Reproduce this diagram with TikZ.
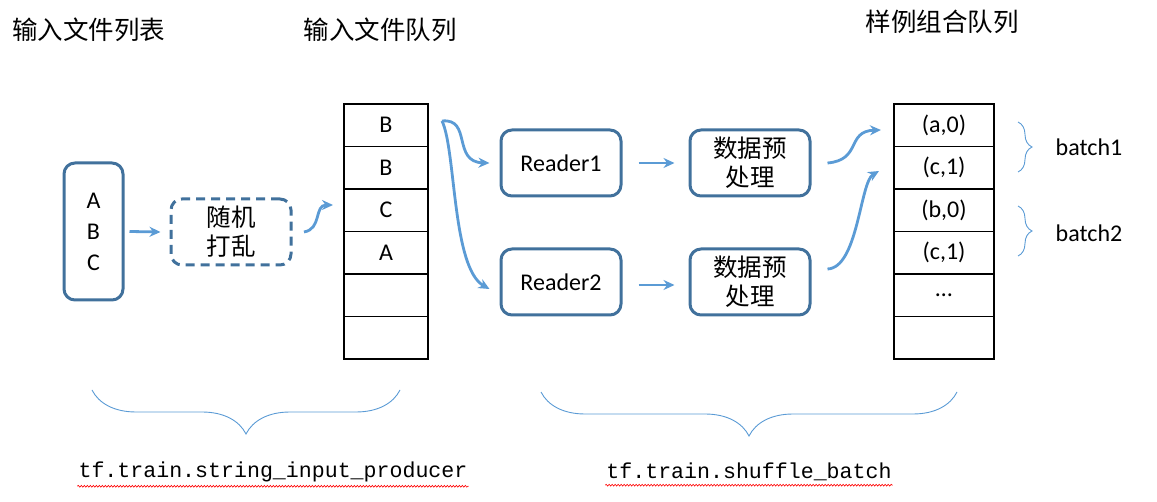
\documentclass[tikz,border=0pt]{standalone}
\usepackage{fontspec}
\setmainfont{Carlito}
\newfontfamily\cjk{Noto Sans CJK SC}
\newfontfamily\apimono{Liberation Mono}
\usepackage{tikz}
\usetikzlibrary{arrows.meta, matrix}
\usetikzlibrary{decorations.pathreplacing, decorations.pathmorphing}

\definecolor{boxblue}{HTML}{41719C}
\definecolor{flowblue}{HTML}{5B9BD5}

\tikzset{
  stagebox/.style={draw=boxblue, line width=3pt, rounded corners=11pt,
    minimum width=120pt, minimum height=66pt, align=center,
    font=\fontsize{24}{29}\selectfont},
  flow/.style={draw=flowblue, line width=2.8pt, -{Stealth[length=11pt,width=10pt]}},
  queue/.style={matrix of nodes, nodes in empty cells, row sep=-1.2pt,
    nodes={draw, line width=1.2pt, minimum height=42.5pt,
      font=\fontsize{24}{26}\selectfont, anchor=center}},
  title/.style={font=\cjk\fontsize{25.5}{28}\selectfont},
  group/.style={draw=flowblue, line width=0.9pt, decorate,
    decoration={brace, amplitude=44pt, aspect=0.5}},
  smallgroup/.style={draw=flowblue, line width=0.9pt, decorate,
    decoration={brace, amplitude=14pt, aspect=0.5}},
  squiggle/.style={draw=red, line width=0.6pt, decorate,
    decoration={snake, amplitude=0.9pt, segment length=3pt}}
}

\begin{document}
\begin{tikzpicture}[x=1pt, y=-1pt]
\useasboundingbox (0,0) rectangle (1157,502);

% titles
\node[title] (t1) at (89,30) {输入文件列表};
\node[title] (t2) at (380,30) {输入文件队列};
\node[title] (t3) at (942,22) {样例组合队列};

% file list and shuffling
\node[stagebox, minimum width=59pt, minimum height=137pt] (files) at (93.5,231.5) {A\\[2pt]B\\[2pt]C};
\node[stagebox, dashed, dash pattern=on 9pt off 6pt, font=\cjk\fontsize{24.5}{29}\selectfont] (shuffle) at (231,232) {随机\\打乱};

\draw[flow] ([xshift=5pt]files.east) -- ([xshift=-9pt]shuffle.west);

% file queue
\matrix (fq)[queue, nodes={minimum width=84pt}] at (386,231.5)
{
B \\
B \\
C \\
A \\
  \\
  \\
};

\coordinate (s1) at (304,232);
\coordinate (s2) at (333,205);
\draw[flow] (s1) .. controls (322,229) and (314,205) .. (s2);

% readers
\node[stagebox] (reader1) at (561,163) {Reader1};
\node[stagebox] (reader2) at (561,282) {Reader2};
\node[stagebox, font=\cjk\fontsize{24.5}{29}\selectfont] (prep1) at (750,163) {数据预\\处理};
\node[stagebox, font=\cjk\fontsize{24.5}{29}\selectfont] (prep2) at (750,282) {数据预\\处理};

\coordinate (fork) at (442,121);
\draw[flow] (fork) .. controls (472,118) and (452,162) .. ([xshift=-10pt]reader1.west);
\draw[flow] (fork) .. controls (456,150) and (452,268) .. ([xshift=-10pt,yshift=-7pt]reader2.west);

\draw[flow] ([xshift=16pt]reader1.east) -- ([xshift=-14pt]prep1.west);
\draw[flow] ([xshift=16pt,yshift=-3pt]reader2.east) -- ([xshift=-14pt,yshift=-3pt]prep2.west);

% example queue
\matrix (eq)[queue, nodes={minimum width=100pt}] at (944,231.5)
{
(a,0) \\
(c,1) \\
(b,0) \\
(c,1) \\
… \\
  \\
};

\coordinate (m1) at (881,130);
\coordinate (m2) at (879,171);
\draw[flow] ([xshift=16pt]prep1.east) .. controls (862,160) and (846,131) .. (m1);
\draw[flow] ([xshift=16pt,yshift=13pt]prep2.east) .. controls (858,268) and (860,182) .. (m2);

% batches
\draw[smallgroup] (1018,122) -- (1018,172);
\draw[smallgroup] (1018,206) -- (1018,256);
\node[font=\fontsize{24}{26}\selectfont] (b1) at (1089,147) {batch1};
\node[font=\fontsize{24}{26}\selectfont] (b2) at (1089,233) {batch2};

% api braces
\draw[group] (400,390) -- (92,390);
\draw[group] (957,392) -- (541,392);
\node[font=\apimono\fontsize{21.6}{26}\selectfont, inner sep=1pt] (producer) at (273,472) {tf.train.string\_input\_producer};
\node[font=\apimono\fontsize{21.6}{26}\selectfont, inner sep=1pt] (batcher) at (749,472) {tf.train.shuffle\_batch};
\draw[squiggle] ([yshift=-3pt]producer.south west) -- ([yshift=-3pt]producer.south east);
\draw[squiggle] ([yshift=-3pt]batcher.south west) -- ([yshift=-3pt]batcher.south east);

\end{tikzpicture}
\end{document}
